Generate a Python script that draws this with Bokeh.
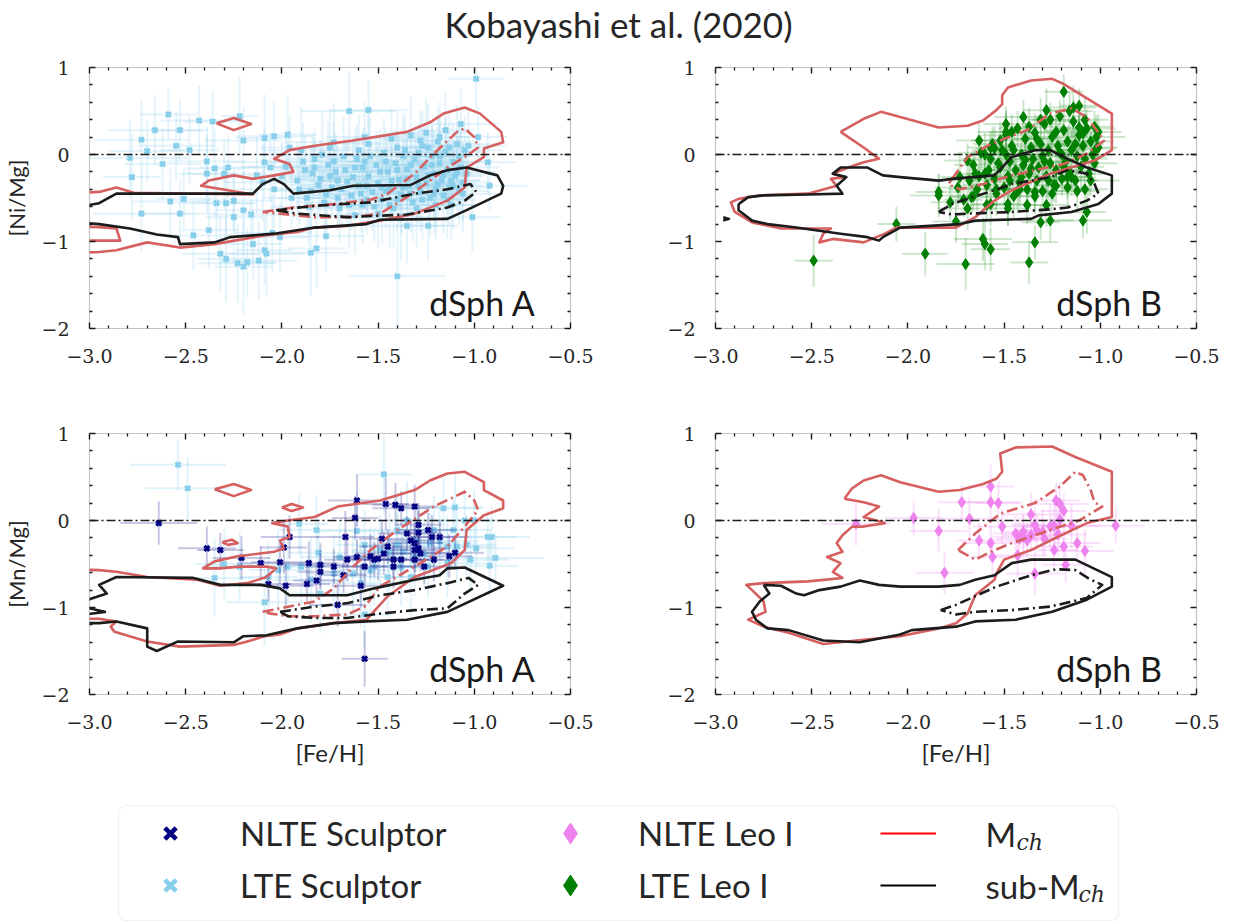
import numpy as np
from bokeh.plotting import figure
from bokeh.models import (Range1d, FixedTicker, LinearAxis, Span, Label, Legend, LegendItem,
                          BoxAnnotation, ColumnDataSource)
from bokeh.layouts import column, row
from bokeh.embed import file_html
from bokeh.resources import INLINE

# ---------------- ticks ----------------
x_ticks = [-3.0, -2.5, -2.0, -1.5, -1.0, -0.5]
x_tick_labels = ["−3.0", "−2.5", "−2.0", "−1.5", "−1.0", "−0.5"]
y_ticks = [-2, -1, 0, 1]
y_tick_labels = ["−2", "−1", "0", "1"]
x_minor = [-2.9, -2.8, -2.7, -2.6, -2.4, -2.3, -2.2, -2.1, -1.9, -1.8, -1.7, -1.6,
           -1.4, -1.3, -1.2, -1.1, -0.9, -0.8, -0.7, -0.6]
y_minor = [-1.8, -1.6, -1.4, -1.2, -0.8, -0.6, -0.4, -0.2, 0.2, 0.4, 0.6, 0.8]

title_text = "Kobayashi et al. (2020)"
panel_names = ["dSph A", "dSph B", "dSph A", "dSph B"]
y_labels = ["[Ni/Mg]", "[Mn/Mg]"]
x_label = "[Fe/H]"

# ---------------- observations: (feh, ratio, feh_err, ratio_err) ----------------
ni_sculptor_lte = [
    (-0.99, 0.87, 0.15, 0.35), (-2.59, 0.46, 0.15, 0.30), (-2.43, 0.39, 0.20, 0.40), (-2.36, 0.38, 0.15, 0.35),
    (-2.22, 0.44, 0.10, 0.45), (-2.66, 0.28, 0.25, 0.40), (-2.53, 0.28, 0.15, 0.35), (-2.73, 0.17, 0.25, 0.45),
    (-2.20, 0.16, 0.20, 0.40), (-2.09, 0.19, 0.15, 0.50), (-2.04, 0.21, 0.20, 0.40), (-1.97, 0.23, 0.15, 0.45),
    (-1.65, 0.50, 0.25, 0.45), (-1.55, 0.51, 0.20, 0.35), (-2.55, 0.10, 0.20, 0.40), (-2.70, 0.04, 0.20, 0.35),
    (-2.48, 0.05, 0.15, 0.40), (-2.79, -0.04, 0.30, 0.45), (-2.62, -0.11, 0.20, 0.40), (-2.78, -0.26, 0.15, 0.50),
    (-2.58, -0.54, 0.20, 0.40), (-2.73, -0.68, 0.25, 0.45), (-2.53, -0.68, 0.20, 0.40), (-2.51, -0.51, 0.15, 0.35),
    (-2.39, -0.08, 0.20, 0.40), (-2.35, -0.16, 0.15, 0.45), (-2.30, -0.22, 0.20, 0.40), (-2.28, -0.15, 0.15, 0.35),
    (-2.39, -0.22, 0.15, 0.45), (-2.34, -0.56, 0.20, 0.45), (-2.29, -0.56, 0.15, 0.40), (-2.25, -0.53, 0.20, 0.35),
    (-2.20, -0.64, 0.15, 0.45), (-2.16, -0.69, 0.20, 0.40), (-2.25, -0.72, 0.15, 0.50), (-2.46, -0.93, 0.20, 0.40),
    (-2.38, -0.87, 0.15, 0.45), (-2.32, -1.14, 0.20, 0.45), (-2.29, -1.20, 0.15, 0.50), (-2.23, -1.25, 0.20, 0.45),
    (-2.20, -1.29, 0.15, 0.55), (-2.18, -1.24, 0.15, 0.40), (-2.12, -1.22, 0.20, 0.45), (-2.09, -1.10, 0.15, 0.40),
    (-2.08, -1.14, 0.20, 0.50), (-2.15, -1.03, 0.15, 0.40), (-2.05, -0.90, 0.20, 0.45), (-2.01, -0.95, 0.15, 0.40),
    (-1.85, -1.13, 0.20, 0.50), (-1.82, -1.08, 0.15, 0.45), (-1.77, -0.94, 0.20, 0.40), (-1.40, -1.40, 0.25, 0.60),
    (-0.92, -0.36, 0.20, 0.30), (-0.93, -0.09, 0.15, 0.35), (-1.01, -0.72, 0.15, 0.40), (-1.35, -0.82, 0.20, 0.45),
    (-1.24, -0.82, 0.15, 0.40), (-1.07, 0.35, 0.20, 0.40), (-0.98, 0.20, 0.15, 0.35), (-2.09, -0.09, 0.20, 0.40),
    (-2.13, -0.24, 0.15, 0.45), (-1.98, -0.14, 0.20, 0.40), (-1.96, 0.08, 0.15, 0.35), (-1.73, 0.14, 0.25, 0.45),
    (-1.57, 0.20, 0.20, 0.40), (-1.40, 0.08, 0.15, 0.40), (-1.28, 0.16, 0.20, 0.35), (-1.18, 0.20, 0.15, 0.40),
    (-1.92, -0.30, 0.20, 0.45), (-1.88, -0.18, 0.15, 0.40), (-1.85, -0.42, 0.20, 0.50), (-1.83, -0.05, 0.15, 0.35),
    (-1.80, -0.28, 0.25, 0.45), (-1.78, -0.55, 0.15, 0.40), (-1.76, -0.12, 0.20, 0.50), (-1.74, -0.38, 0.15, 0.35),
    (-1.72, -0.20, 0.20, 0.45), (-1.70, -0.62, 0.15, 0.40), (-1.68, -0.02, 0.20, 0.45), (-1.66, -0.31, 0.15, 0.50),
    (-1.64, -0.47, 0.20, 0.40), (-1.62, -0.15, 0.25, 0.45), (-1.60, -0.36, 0.15, 0.35), (-1.58, -0.58, 0.20, 0.45),
    (-1.57, -0.08, 0.15, 0.40), (-1.55, -0.25, 0.20, 0.50), (-1.53, -0.43, 0.15, 0.45), (-1.51, -0.12, 0.20, 0.40),
    (-1.50, -0.33, 0.15, 0.45), (-1.48, -0.52, 0.20, 0.50), (-1.47, 0.02, 0.15, 0.40), (-1.45, -0.20, 0.20, 0.45),
    (-1.44, -0.40, 0.15, 0.35), (-1.42, -0.62, 0.20, 0.45), (-1.41, -0.10, 0.15, 0.40), (-1.39, -0.29, 0.20, 0.50),
    (-1.38, -0.46, 0.15, 0.45), (-1.36, 0.05, 0.20, 0.40), (-1.35, -0.17, 0.15, 0.45), (-1.34, -0.36, 0.20, 0.35),
    (-1.32, -0.55, 0.15, 0.45), (-1.31, -0.06, 0.20, 0.40), (-1.30, -0.26, 0.15, 0.50), (-1.28, -0.43, 0.20, 0.45),
    (-1.27, 0.10, 0.15, 0.40), (-1.26, -0.14, 0.20, 0.45), (-1.25, -0.33, 0.15, 0.35), (-1.23, -0.50, 0.20, 0.45),
    (-1.22, -0.02, 0.15, 0.40), (-1.21, -0.22, 0.20, 0.50), (-1.20, -0.40, 0.15, 0.45), (-1.19, 0.15, 0.20, 0.40),
    (-1.18, -0.10, 0.15, 0.45), (-1.17, -0.30, 0.20, 0.35), (-1.16, -0.47, 0.15, 0.45), (-1.15, 0.03, 0.20, 0.40),
    (-1.14, -0.18, 0.15, 0.50), (-1.13, -0.38, 0.20, 0.45), (-1.12, -0.58, 0.15, 0.40), (-1.11, -0.08, 0.20, 0.45),
    (-1.10, -0.25, 0.15, 0.35), (-1.09, 0.12, 0.20, 0.45), (-1.08, -0.42, 0.15, 0.40), (-1.07, -0.15, 0.20, 0.50),
    (-1.06, -0.32, 0.15, 0.45), (-1.05, 0.05, 0.20, 0.40), (-1.62, -0.70, 0.15, 0.45), (-1.50, -0.68, 0.20, 0.40),
    (-1.38, -0.72, 0.15, 0.50), (-1.86, -0.60, 0.20, 0.45), (-2.00, -0.25, 0.15, 0.40), (-2.04, -0.40, 0.20, 0.45),
    (-1.95, -0.50, 0.15, 0.35), (-2.10, -0.32, 0.20, 0.45), (-2.06, -0.15, 0.15, 0.40), (-1.90, 0.05, 0.20, 0.50),
    (-1.75, 0.08, 0.15, 0.45), (-1.60, 0.05, 0.20, 0.40), (-1.55, 0.12, 0.15, 0.45), (-1.43, 0.18, 0.20, 0.35),
    (-1.33, 0.22, 0.15, 0.45), (-1.25, 0.25, 0.20, 0.40), (-1.15, 0.28, 0.15, 0.45),
    (-1.91, -0.40, 0.15, 0.40), (-1.89, -0.08, 0.20, 0.45), (-1.87, -0.50, 0.15, 0.35), (-1.84, -0.22, 0.20, 0.45),
    (-1.81, -0.35, 0.15, 0.40), (-1.79, 0.00, 0.20, 0.50), (-1.77, -0.46, 0.15, 0.45), (-1.75, -0.25, 0.20, 0.40),
    (-1.73, -0.08, 0.15, 0.45), (-1.71, -0.50, 0.20, 0.35), (-1.69, -0.40, 0.15, 0.45), (-1.67, -0.18, 0.20, 0.40),
    (-1.65, -0.58, 0.15, 0.50), (-1.63, -0.26, 0.20, 0.45), (-1.61, -0.05, 0.15, 0.40), (-1.59, -0.45, 0.20, 0.45),
    (-1.56, -0.36, 0.15, 0.35), (-1.54, -0.02, 0.20, 0.45), (-1.52, -0.60, 0.15, 0.40), (-1.49, -0.20, 0.20, 0.50),
    (-1.46, -0.42, 0.15, 0.45), (-1.46, -0.08, 0.20, 0.40), (-1.43, -0.30, 0.15, 0.45), (-1.40, -0.52, 0.20, 0.35),
    (-1.40, -0.18, 0.15, 0.45), (-1.37, -0.38, 0.20, 0.40), (-1.37, -0.02, 0.15, 0.50), (-1.33, -0.45, 0.20, 0.45),
    (-1.33, -0.12, 0.15, 0.40), (-1.29, -0.35, 0.20, 0.45), (-1.29, 0.02, 0.15, 0.35), (-1.27, -0.52, 0.20, 0.45),
    (-1.24, -0.24, 0.15, 0.40), (-1.24, 0.08, 0.20, 0.50), (-1.21, -0.46, 0.15, 0.45), (-1.19, -0.34, 0.20, 0.40),
    (-1.18, -0.02, 0.15, 0.45), (-1.16, -0.24, 0.20, 0.35), (-1.14, -0.52, 0.15, 0.45), (-1.13, 0.08, 0.20, 0.40),
    (-1.11, -0.36, 0.15, 0.50), (-1.09, -0.20, 0.20, 0.45), (-1.08, -0.02, 0.15, 0.40), (-1.06, -0.45, 0.20, 0.45),
    (-1.04, -0.22, 0.15, 0.35), (-1.03, 0.10, 0.20, 0.45), (-1.56, -0.52, 0.15, 0.40), (-1.44, -0.58, 0.20, 0.50),
    (-1.30, -0.62, 0.15, 0.45), (-1.20, -0.58, 0.20, 0.40), (-1.71, -0.30, 0.15, 0.45), (-1.83, -0.15, 0.20, 0.35),
    (-1.58, -0.15, 0.15, 0.45), (-1.48, -0.38, 0.20, 0.40), (-1.35, -0.28, 0.15, 0.50), (-1.22, -0.12, 0.20, 0.45),
    (-1.12, -0.30, 0.15, 0.40),
]

ni_leo_lte = [
    (-2.49, -1.22, 0.10, 0.30), (-2.06, -0.80, 0.10, 0.20), (-1.91, -1.14, 0.12, 0.25), (-1.70, -1.26, 0.15, 0.30),
    (-1.61, -0.97, 0.15, 0.25), (-1.60, -1.03, 0.12, 0.30), (-1.57, -1.09, 0.10, 0.25), (-1.34, -1.01, 0.12, 0.20),
    (-1.37, -1.24, 0.10, 0.25), (-1.84, -0.43, 0.12, 0.20), (-1.84, -0.47, 0.15, 0.25), (-1.78, -0.55, 0.10, 0.20),
    (-1.75, -0.77, 0.12, 0.25), (-1.31, -0.78, 0.10, 0.20), (-1.26, -0.76, 0.12, 0.25), (-1.09, -0.76, 0.15, 0.20),
    (-1.07, -0.66, 0.10, 0.25), (-1.08, -0.40, 0.12, 0.20), (-1.48, -0.57, 0.12, 0.25), (-1.19, 0.72, 0.10, 0.20),
    (-1.14, 0.54, 0.12, 0.25), (-1.11, 0.56, 0.10, 0.20), (-1.28, 0.51, 0.12, 0.25), (-1.40, 0.43, 0.15, 0.20),
    (-1.11, 0.31, 0.10, 0.25), (-1.01, 0.26, 0.12, 0.20), (-1.02, 0.07, 0.10, 0.25), (-1.63, 0.16, 0.12, 0.20),
    (-1.55, 0.07, 0.10, 0.25), (-1.49, 0.35, 0.12, 0.20), (-1.49, 0.26, 0.15, 0.25), (-1.69, -0.07, 0.12, 0.20),
    (-1.65, -0.22, 0.10, 0.25), (-1.67, -0.49, 0.12, 0.20), (-1.73, -0.26, 0.10, 0.25), (-1.54, -0.40, 0.12, 0.20),
    (-1.57, -0.57, 0.10, 0.25), (-1.42, -0.40, 0.12, 0.20), (-1.34, -0.43, 0.10, 0.25), (-1.23, -0.36, 0.12, 0.20),
    (-1.17, -0.26, 0.10, 0.25),
    (-1.68, -0.30, 0.12, 0.22), (-1.66, -0.12, 0.10, 0.18), (-1.64, -0.40, 0.15, 0.25), (-1.62, 0.02, 0.12, 0.20),
    (-1.60, -0.22, 0.10, 0.22), (-1.59, -0.35, 0.12, 0.18), (-1.57, -0.05, 0.15, 0.25), (-1.56, 0.12, 0.10, 0.20),
    (-1.55, -0.28, 0.12, 0.22), (-1.54, -0.45, 0.10, 0.25), (-1.52, -0.15, 0.12, 0.18), (-1.51, 0.05, 0.15, 0.20),
    (-1.50, -0.38, 0.10, 0.22), (-1.49, 0.22, 0.12, 0.25), (-1.48, -0.25, 0.10, 0.18), (-1.47, -0.08, 0.12, 0.20),
    (-1.46, 0.10, 0.15, 0.22), (-1.45, -0.48, 0.10, 0.25), (-1.44, -0.18, 0.12, 0.18), (-1.43, 0.30, 0.10, 0.20),
    (-1.42, -0.32, 0.12, 0.22), (-1.41, 0.00, 0.15, 0.25), (-1.40, -0.12, 0.10, 0.18), (-1.39, 0.18, 0.12, 0.20),
    (-1.38, -0.40, 0.10, 0.22), (-1.37, -0.22, 0.12, 0.25), (-1.36, 0.08, 0.15, 0.18), (-1.35, -0.05, 0.10, 0.20),
    (-1.34, 0.25, 0.12, 0.22), (-1.33, -0.30, 0.10, 0.25), (-1.32, -0.15, 0.12, 0.18), (-1.31, 0.12, 0.15, 0.20),
    (-1.30, -0.02, 0.10, 0.22), (-1.30, -0.42, 0.12, 0.25), (-1.29, 0.35, 0.10, 0.18), (-1.28, -0.25, 0.12, 0.20),
    (-1.27, 0.05, 0.15, 0.22), (-1.26, -0.10, 0.10, 0.25), (-1.25, 0.20, 0.12, 0.18), (-1.24, -0.35, 0.10, 0.20),
    (-1.23, -0.18, 0.12, 0.22), (-1.22, 0.10, 0.15, 0.25), (-1.21, 0.02, 0.10, 0.18), (-1.20, -0.28, 0.12, 0.20),
    (-1.19, 0.28, 0.10, 0.22), (-1.18, -0.08, 0.12, 0.25), (-1.17, 0.15, 0.15, 0.18), (-1.16, -0.20, 0.10, 0.20),
    (-1.15, 0.05, 0.12, 0.22), (-1.14, 0.38, 0.10, 0.25), (-1.13, -0.30, 0.12, 0.18), (-1.12, -0.02, 0.15, 0.20),
    (-1.11, 0.22, 0.10, 0.22), (-1.10, -0.14, 0.12, 0.25), (-1.09, 0.10, 0.10, 0.18), (-1.08, -0.05, 0.12, 0.20),
    (-1.07, 0.30, 0.15, 0.22), (-1.06, -0.22, 0.10, 0.25), (-1.05, 0.15, 0.12, 0.18), (-1.04, 0.00, 0.10, 0.20),
    (-1.03, -0.10, 0.12, 0.22), (-1.02, 0.20, 0.15, 0.25), (-1.01, 0.08, 0.10, 0.18), (-1.36, -0.16, 0.12, 0.20),
    (-1.27, -0.30, 0.10, 0.22), (-1.33, 0.18, 0.12, 0.25), (-1.45, 0.05, 0.15, 0.18), (-1.53, -0.10, 0.10, 0.20),
    (-1.41, -0.26, 0.12, 0.22), (-1.23, 0.26, 0.10, 0.25), (-1.19, -0.14, 0.12, 0.18), (-1.13, 0.12, 0.15, 0.20),
    (-1.09, 0.24, 0.10, 0.22), (-1.47, -0.30, 0.12, 0.25), (-1.58, -0.18, 0.10, 0.18), (-1.63, -0.25, 0.12, 0.20),
    (-1.37, 0.32, 0.15, 0.22), (-1.31, 0.40, 0.10, 0.25), (-1.21, 0.44, 0.12, 0.18), (-1.26, 0.40, 0.10, 0.20),
    (-1.16, 0.50, 0.12, 0.22), (-1.43, -0.42, 0.15, 0.25), (-1.34, -0.48, 0.10, 0.18), (-1.25, -0.45, 0.12, 0.20),
    (-1.17, -0.38, 0.10, 0.22), (-1.12, -0.42, 0.12, 0.25), (-1.05, -0.30, 0.15, 0.18), (-1.29, -0.08, 0.10, 0.20),
    (-1.39, -0.06, 0.12, 0.22), (-1.49, 0.00, 0.10, 0.25), (-1.57, 0.08, 0.12, 0.18), (-1.20, 0.00, 0.15, 0.20),
    (-1.15, -0.26, 0.10, 0.22), (-1.08, 0.40, 0.12, 0.25), (-1.03, 0.32, 0.10, 0.18), (-1.46, 0.26, 0.12, 0.20),
    (-1.52, 0.16, 0.15, 0.22), (-1.60, 0.00, 0.10, 0.25), (-1.66, -0.48, 0.12, 0.18), (-1.71, -0.52, 0.10, 0.20),
    (-1.74, -0.38, 0.12, 0.22), (-1.69, -0.62, 0.15, 0.25), (-1.59, -0.58, 0.10, 0.18), (-1.48, -0.62, 0.12, 0.20),
    (-1.38, -0.58, 0.10, 0.22), (-1.28, -0.58, 0.12, 0.25),
]

mn_sculptor_nlte = [
    (-2.64, -0.03, 0.20, 0.25), (-2.39, -0.32, 0.15, 0.25), (-2.32, -0.34, 0.12, 0.20), (-2.21, -0.43, 0.15, 0.25),
    (-2.11, -0.49, 0.12, 0.20), (-2.01, -0.48, 0.15, 0.25), (-1.99, -0.31, 0.12, 0.30), (-1.96, -0.19, 0.15, 0.25),
    (-2.07, -0.73, 0.12, 0.20), (-1.98, -0.75, 0.15, 0.25), (-1.87, -0.73, 0.12, 0.20), (-1.86, -0.49, 0.15, 0.25),
    (-1.82, -0.69, 0.12, 0.20), (-1.80, -0.51, 0.15, 0.25), (-1.80, -0.59, 0.12, 0.20), (-1.71, -0.97, 0.15, 0.25),
    (-1.68, -0.63, 0.12, 0.20), (-1.67, -0.19, 0.15, 0.30), (-1.62, 0.03, 0.12, 0.25), (-1.61, 0.23, 0.15, 0.30),
    (-1.61, -0.42, 0.12, 0.20), (-1.59, -0.75, 0.15, 0.25), (-1.57, -1.59, 0.12, 0.32), (-1.52, -0.45, 0.12, 0.20),
    (-1.50, -0.44, 0.15, 0.25), (-1.48, -0.21, 0.12, 0.20), (-1.47, -0.38, 0.15, 0.25), (-1.46, 0.19, 0.12, 0.30),
    (-1.42, -0.45, 0.15, 0.20), (-1.41, 0.18, 0.12, 0.25), (-1.38, 0.14, 0.15, 0.20), (-1.31, 0.16, 0.12, 0.25),
    (-1.31, -0.26, 0.15, 0.20), (-1.29, -0.05, 0.12, 0.25), (-1.29, -0.32, 0.15, 0.20), (-1.29, -0.14, 0.12, 0.25),
    (-1.26, -0.53, 0.15, 0.20), (-1.22, -0.19, 0.12, 0.25), (-1.18, -0.19, 0.15, 0.20), (-1.13, -0.41, 0.12, 0.25),
    (-1.10, -0.37, 0.15, 0.20), (-1.54, -0.41, 0.12, 0.25), (-1.38, -0.45, 0.15, 0.20), (-1.33, -0.23, 0.12, 0.25),
    (-1.24, -0.11, 0.15, 0.20), (-1.42, -0.53, 0.12, 0.25), (-1.73, -0.53, 0.15, 0.20), (-1.31, -0.34, 0.12, 0.25),
    (-1.35, -0.15, 0.15, 0.20), (-1.21, -0.45, 0.12, 0.25), (-1.45, -0.30, 0.15, 0.20), (-1.57, -0.53, 0.12, 0.25),
    (-1.28, -0.38, 0.15, 0.20), (-1.66, -0.45, 0.12, 0.25), (-1.31, -0.45, 0.15, 0.20),
]

mn_sculptor_lte = [
    (-2.54, 0.64, 0.25, 0.30), (-2.49, 0.37, 0.22, 0.35), (-1.47, 0.53, 0.15, 0.45), (-1.91, -0.04, 0.15, 0.35),
    (-1.82, -0.11, 0.20, 0.40), (-1.81, -0.37, 0.15, 0.35), (-2.35, -0.66, 0.20, 0.45), (-2.30, -0.50, 0.15, 0.40),
    (-2.09, -0.94, 0.20, 0.50), (-2.07, -0.65, 0.15, 0.40), (-1.61, -0.12, 0.20, 0.45), (-1.57, -1.08, 0.15, 0.40),
    (-1.16, 0.14, 0.20, 0.35), (-1.10, 0.15, 0.15, 0.40), (-1.00, 0.00, 0.20, 0.35), (-0.93, -0.19, 0.15, 0.30),
    (-0.91, -0.19, 0.20, 0.35), (-0.89, -0.43, 0.25, 0.30), (-0.92, -0.52, 0.15, 0.35), (-0.99, -0.32, 0.20, 0.30),
    (-1.04, -0.28, 0.15, 0.35), (-1.09, -0.30, 0.20, 0.40), (-1.14, -0.30, 0.15, 0.35), (-1.18, -0.24, 0.20, 0.40),
    (-1.23, -0.26, 0.15, 0.35), (-1.26, -0.38, 0.20, 0.40), (-1.31, -0.42, 0.15, 0.45), (-1.37, -0.36, 0.20, 0.40),
    (-1.40, -0.28, 0.15, 0.35), (-1.44, -0.36, 0.20, 0.45), (-1.49, -0.34, 0.15, 0.40), (-1.52, -0.53, 0.20, 0.45),
    (-1.57, -0.28, 0.15, 0.40), (-1.54, -0.57, 0.20, 0.50), (-1.63, -0.61, 0.15, 0.45), (-1.70, -0.42, 0.20, 0.40),
    (-1.73, -0.61, 0.15, 0.45), (-1.85, -0.68, 0.20, 0.50), (-1.90, -0.53, 0.15, 0.45), (-1.97, -0.53, 0.20, 0.40),
    (-2.02, -0.57, 0.15, 0.45), (-2.22, -0.53, 0.20, 0.40), (-1.38, -0.53, 0.15, 0.45), (-1.21, -0.11, 0.20, 0.40),
    (-1.30, -0.23, 0.15, 0.35), (-1.14, -0.49, 0.20, 0.40), (-1.35, 0.00, 0.15, 0.45), (-1.40, -0.11, 0.20, 0.40),
    (-1.24, -0.53, 0.15, 0.35), (-1.45, -0.65, 0.20, 0.45), (-1.05, 0.00, 0.15, 0.35), (-1.11, -0.11, 0.20, 0.40),
    (-1.33, -0.65, 0.15, 0.45), (-1.59, -0.72, 0.20, 0.50), (-1.80, -0.84, 0.15, 0.45), (-1.02, -0.45, 0.20, 0.35),
]

mn_leo_nlte = [
    (-2.27, -0.04, 0.18, 0.25), (-1.97, 0.03, 0.15, 0.20), (-1.84, -0.12, 0.15, 0.25), (-1.72, 0.21, 0.12, 0.20),
    (-1.68, 0.02, 0.15, 0.25), (-1.63, -0.23, 0.12, 0.20), (-1.57, 0.39, 0.12, 0.25), (-1.57, 0.21, 0.15, 0.20),
    (-1.53, 0.20, 0.12, 0.25), (-1.57, -0.26, 0.15, 0.20), (-1.56, -0.42, 0.12, 0.25), (-1.51, -0.07, 0.15, 0.20),
    (-1.81, -0.60, 0.15, 0.25), (-1.44, -0.15, 0.12, 0.20), (-1.43, -0.40, 0.15, 0.25), (-1.40, -0.13, 0.12, 0.20),
    (-1.40, -0.19, 0.15, 0.25), (-1.38, -0.23, 0.12, 0.20), (-1.36, 0.07, 0.15, 0.25), (-1.34, -0.05, 0.12, 0.20),
    (-1.34, -0.61, 0.15, 0.25), (-1.33, -0.11, 0.12, 0.20), (-1.30, -0.13, 0.15, 0.25), (-1.29, -0.21, 0.12, 0.20),
    (-1.26, -0.07, 0.15, 0.25), (-1.24, -0.34, 0.12, 0.20), (-1.24, -0.06, 0.15, 0.25), (-1.23, 0.23, 0.12, 0.20),
    (-1.21, 0.19, 0.15, 0.25), (-1.21, 0.01, 0.12, 0.20), (-1.22, -0.16, 0.15, 0.25), (-1.19, 0.11, 0.12, 0.20),
    (-1.19, -0.30, 0.15, 0.25), (-1.18, -0.51, 0.12, 0.20), (-1.15, -0.06, 0.15, 0.25), (-1.12, -0.26, 0.12, 0.20),
    (-1.08, -0.35, 0.15, 0.25), (-0.92, -0.06, 0.15, 0.20), (-1.42, -0.21, 0.12, 0.25), (-1.36, -0.17, 0.15, 0.20),
]

# ---------------- model contours: (feh, ratio) ----------------
ni_sculptor_mch_outer = [(-3.05, -0.44), (-2.95, -0.43), (-2.86, -0.38), (-2.77, -0.44), (-2.15, -0.46), (-2.42, -0.36),
    (-2.38, -0.30), (-2.25, -0.24), (-2.15, -0.28), (-2.04, -0.24), (-1.94, -0.20), (-1.96, -0.11), (-2.04, -0.05),
    (-1.96, 0.05), (-1.83, 0.10), (-1.63, 0.16), (-1.35, 0.26), (-1.23, 0.37), (-1.16, 0.47), (-1.05, 0.54),
    (-0.97, 0.47), (-0.86, 0.26), (-0.85, 0.14), (-0.95, 0.07), (-0.95, -0.03), (-1.04, -0.15), (-1.05, -0.38),
    (-1.14, -0.53), (-1.31, -0.68), (-1.49, -0.76), (-1.66, -0.82), (-1.83, -0.84), (-1.92, -0.89), (-2.09, -0.93),
    (-2.35, -1.03), (-2.53, -1.07), (-2.70, -1.01), (-2.86, -1.10), (-2.95, -1.12), (-3.05, -1.13)]
ni_sculptor_mch_edge = [(-3.05, -0.83), (-2.95, -0.835), (-2.86, -0.85), (-2.84, -0.99), (-2.95, -0.99), (-3.05, -0.99)]
ni_sculptor_mch_island = [(-2.34, 0.36), (-2.25, 0.42), (-2.16, 0.35), (-2.25, 0.28), (-2.34, 0.36)]
ni_sculptor_mch_inner = [(-2.10, -0.66), (-1.94, -0.61), (-1.73, -0.57), (-1.54, -0.52), (-1.45, -0.45), (-1.31, -0.22),
    (-1.21, 0.01), (-1.09, 0.26), (-1.05, 0.30), (-1.00, 0.20), (-0.98, 0.08), (-1.05, -0.03), (-1.14, -0.15),
    (-1.23, -0.30), (-1.35, -0.49), (-1.49, -0.68), (-1.63, -0.72), (-1.83, -0.72), (-2.01, -0.68), (-2.10, -0.66)]
ni_sculptor_sub_outer = [(-3.05, -0.60), (-2.95, -0.56), (-2.86, -0.45), (-2.15, -0.45), (-2.10, -0.34), (-2.04, -0.28),
    (-1.99, -0.34), (-1.94, -0.45), (-1.75, -0.41), (-1.63, -0.36), (-1.33, -0.35), (-1.23, -0.24), (-1.14, -0.18),
    (-1.04, -0.15), (-0.88, -0.24), (-0.85, -0.36), (-0.86, -0.45), (-1.04, -0.64), (-1.14, -0.74), (-1.49, -0.75),
    (-1.56, -0.80), (-1.83, -0.84), (-2.04, -0.91), (-2.27, -0.95), (-2.35, -1.01), (-2.53, -1.03), (-2.54, -0.95),
    (-2.65, -0.92), (-2.79, -0.85), (-2.95, -0.80), (-3.05, -0.78)]
ni_sculptor_sub_inner = [(-2.03, -0.64), (-1.83, -0.59), (-1.54, -0.55), (-1.31, -0.45), (-1.14, -0.40), (-1.02, -0.34),
    (-0.99, -0.43), (-1.05, -0.53), (-1.14, -0.61), (-1.35, -0.69), (-1.66, -0.72), (-1.92, -0.68), (-2.03, -0.64)]

ni_leo_mch_outer = [(-2.35, 0.26), (-2.23, 0.08), (-2.15, -0.05), (-2.23, -0.09), (-2.31, -0.15), (-2.39, -0.22),
    (-2.33, -0.26), (-2.40, -0.28), (-2.37, -0.36), (-2.52, -0.45), (-2.77, -0.47), (-2.88, -0.51), (-2.92, -0.55),
    (-2.90, -0.66), (-2.81, -0.78), (-2.66, -0.85), (-2.40, -0.85), (-2.44, -0.91), (-2.46, -1.01), (-2.39, -0.97),
    (-2.31, -0.99), (-2.23, -1.01), (-2.12, -0.91), (-2.06, -0.84), (-1.75, -0.84), (-1.65, -0.72), (-1.55, -0.53),
    (-1.46, -0.41), (-1.26, -0.22), (-1.03, -0.07), (-0.94, 0.05), (-0.94, 0.47), (-1.05, 0.62), (-1.19, 0.81),
    (-1.25, 0.87), (-1.36, 0.85), (-1.48, 0.77), (-1.51, 0.68), (-1.51, 0.58), (-1.54, 0.51), (-1.61, 0.39),
    (-1.69, 0.33), (-1.84, 0.31), (-2.04, 0.43), (-2.14, 0.49), (-2.23, 0.41), (-2.35, 0.26)]
ni_leo_mch_inner = [(-1.77, -0.28), (-1.69, -0.03), (-1.57, 0.12), (-1.38, 0.28), (-1.26, 0.47), (-1.15, 0.53),
    (-1.07, 0.43), (-1.03, 0.31), (-0.98, 0.16), (-1.07, 0.01), (-1.19, -0.11), (-1.34, -0.18), (-1.46, -0.24),
    (-1.61, -0.34), (-1.73, -0.40), (-1.79, -0.34), (-1.77, -0.28)]
ni_leo_sub_outer = [(-2.88, -0.57), (-2.83, -0.49), (-2.75, -0.47), (-2.52, -0.46), (-2.34, -0.45), (-2.37, -0.36),
    (-2.32, -0.26), (-2.39, -0.22), (-2.35, -0.15), (-2.21, -0.15), (-2.13, -0.24), (-2.04, -0.26), (-1.84, -0.30),
    (-1.77, -0.28), (-1.55, -0.24), (-1.46, -0.03), (-1.34, 0.05), (-1.26, 0.05), (-1.19, -0.03), (-1.07, -0.15),
    (-0.94, -0.24), (-0.94, -0.45), (-1.01, -0.57), (-1.15, -0.66), (-1.32, -0.70), (-1.36, -0.74), (-1.65, -0.76),
    (-1.73, -0.80), (-2.04, -0.84), (-2.13, -0.95), (-2.15, -0.99), (-2.21, -0.95), (-2.35, -0.91), (-2.58, -0.84),
    (-2.73, -0.80), (-2.81, -0.76), (-2.88, -0.64), (-2.88, -0.57)]
ni_leo_sub_tick = [(-2.96, -0.72), (-2.93, -0.74), (-2.96, -0.76)]
ni_leo_sub_inner = [(-1.84, -0.66), (-1.77, -0.57), (-1.69, -0.51), (-1.55, -0.41), (-1.46, -0.34), (-1.26, -0.26),
    (-1.17, -0.18), (-1.07, -0.22), (-1.03, -0.34), (-1.01, -0.45), (-1.07, -0.53), (-1.17, -0.61), (-1.26, -0.63),
    (-1.46, -0.66), (-1.69, -0.68), (-1.77, -0.69), (-1.84, -0.66)]

mn_sculptor_mch_outer = [(-3.05, -0.565), (-2.95, -0.57), (-2.86, -0.59), (-2.70, -0.65), (-2.44, -0.68), (-2.32, -0.75),
    (-2.18, -0.72), (-2.08, -0.65), (-2.03, -0.55), (-2.08, -0.53), (-2.22, -0.53), (-2.32, -0.55), (-2.41, -0.55),
    (-2.35, -0.47), (-2.23, -0.41), (-2.04, -0.36), (-1.99, -0.32), (-2.01, -0.23), (-1.96, -0.19), (-1.97, -0.07),
    (-2.05, -0.03), (-1.97, 0.00), (-1.83, 0.04), (-1.71, 0.16), (-1.49, 0.23), (-1.31, 0.35), (-1.23, 0.46),
    (-1.14, 0.54), (-1.05, 0.56), (-0.95, 0.44), (-0.95, 0.35), (-0.85, 0.23), (-0.85, 0.14), (-0.95, 0.06),
    (-1.04, -0.11), (-1.05, -0.34), (-1.12, -0.49), (-1.31, -0.65), (-1.45, -0.87), (-1.56, -1.14), (-1.73, -1.18),
    (-1.92, -1.24), (-2.01, -1.31), (-2.09, -1.33), (-2.18, -1.39), (-2.25, -1.43), (-2.53, -1.45), (-2.70, -1.39),
    (-2.87, -1.28), (-2.89, -1.22), (-2.86, -1.16), (-2.95, -1.13), (-3.05, -1.13)]
mn_sculptor_mch_island1 = [(-2.35, 0.36), (-2.25, 0.42), (-2.16, 0.35), (-2.25, 0.28), (-2.35, 0.36)]
mn_sculptor_mch_island2 = [(-2.00, 0.15), (-1.95, 0.19), (-1.89, 0.15), (-1.95, 0.11), (-2.00, 0.15)]
mn_sculptor_mch_island3 = [(-2.31, -0.25), (-2.26, -0.22), (-2.23, -0.26), (-2.28, -0.28), (-2.31, -0.25)]
mn_sculptor_mch_inner = [(-2.10, -1.05), (-2.01, -1.01), (-1.83, -0.93), (-1.73, -0.78), (-1.63, -0.53), (-1.54, -0.34),
    (-1.40, -0.11), (-1.21, 0.16), (-1.05, 0.33), (-1.00, 0.23), (-0.98, 0.12), (-1.05, -0.07), (-1.14, -0.30),
    (-1.31, -0.53), (-1.49, -0.76), (-1.57, -0.99), (-1.66, -1.08), (-1.83, -1.10), (-1.96, -1.10), (-2.06, -1.07),
    (-2.10, -1.05)]
mn_sculptor_sub_outer = [(-3.02, -0.92), (-2.91, -0.84), (-2.95, -0.74), (-2.86, -0.65), (-2.46, -0.66), (-2.32, -0.74),
    (-2.11, -0.74), (-2.01, -0.78), (-1.96, -0.86), (-1.66, -0.86), (-1.52, -0.78), (-1.31, -0.68), (-1.18, -0.63),
    (-1.14, -0.55), (-1.05, -0.54), (-0.85, -0.75), (-1.14, -1.05), (-1.35, -1.14), (-1.56, -1.16), (-1.73, -1.18),
    (-1.92, -1.24), (-2.08, -1.32), (-2.20, -1.33), (-2.25, -1.40), (-2.54, -1.39), (-2.65, -1.50), (-2.70, -1.45),
    (-2.70, -1.24), (-2.86, -1.16), (-2.95, -1.18), (-3.05, -1.18)]
mn_sculptor_sub_notch = [(-3.02, -1.00), (-2.92, -1.05), (-3.02, -1.08)]
mn_sculptor_sub_inner = [(-2.01, -1.05), (-1.83, -0.99), (-1.66, -0.95), (-1.49, -0.86), (-1.31, -0.80), (-1.14, -0.72),
    (-1.03, -0.66), (-0.98, -0.74), (-1.05, -0.84), (-1.14, -1.01), (-1.31, -1.03), (-1.49, -1.07), (-1.66, -1.12),
    (-1.83, -1.12), (-1.97, -1.10), (-2.01, -1.05)]

mn_leo_mch_outer = [(-2.33, 0.25), (-2.29, 0.37), (-2.23, 0.46), (-2.14, 0.52), (-2.04, 0.44), (-1.84, 0.33),
    (-1.73, 0.35), (-1.61, 0.42), (-1.54, 0.48), (-1.51, 0.56), (-1.52, 0.77), (-1.44, 0.84), (-1.25, 0.85),
    (-1.13, 0.73), (-0.94, 0.56), (-0.94, 0.04), (-1.07, -0.03), (-1.26, -0.23), (-1.36, -0.34), (-1.50, -0.45),
    (-1.54, -0.61), (-1.55, -0.68), (-1.65, -0.86), (-1.69, -1.07), (-1.75, -1.18), (-1.84, -1.24), (-2.04, -1.33),
    (-2.23, -1.37), (-2.44, -1.42), (-2.62, -1.29), (-2.75, -1.22), (-2.83, -1.14), (-2.74, -1.05), (-2.75, -0.93),
    (-2.81, -0.80), (-2.84, -0.74), (-2.75, -0.72), (-2.52, -0.70), (-2.34, -0.66), (-2.39, -0.59), (-2.35, -0.49),
    (-2.42, -0.42), (-2.34, -0.36), (-2.37, -0.26), (-2.34, -0.17), (-2.29, -0.07), (-2.23, -0.07), (-2.12, -0.03),
    (-2.23, 0.04), (-2.15, 0.16), (-2.23, 0.21), (-2.33, 0.25)]
mn_leo_mch_inner = [(-1.74, -0.34), (-1.65, -0.15), (-1.52, 0.08), (-1.34, 0.20), (-1.21, 0.39), (-1.13, 0.56),
    (-1.09, 0.52), (-1.05, 0.35), (-1.03, 0.21), (-0.99, 0.16), (-1.11, 0.00), (-1.26, -0.11), (-1.46, -0.26),
    (-1.57, -0.36), (-1.65, -0.45), (-1.74, -0.34)]
mn_leo_sub_outer = [(-2.75, -0.74), (-2.72, -0.84), (-2.77, -0.93), (-2.81, -1.05), (-2.79, -1.14), (-2.73, -1.24),
    (-2.62, -1.26), (-2.44, -1.38), (-2.25, -1.40), (-2.04, -1.31), (-1.98, -1.26), (-1.75, -1.22), (-1.65, -1.16),
    (-1.44, -1.14), (-1.25, -1.05), (-1.07, -0.91), (-0.94, -0.76), (-0.94, -0.65), (-1.13, -0.45), (-1.26, -0.45),
    (-1.36, -0.45), (-1.46, -0.49), (-1.55, -0.63), (-1.65, -0.68), (-1.73, -0.74), (-1.84, -0.76), (-2.04, -0.76),
    (-2.15, -0.74), (-2.25, -0.69), (-2.35, -0.76), (-2.46, -0.80), (-2.54, -0.86), (-2.58, -0.84), (-2.66, -0.75),
    (-2.75, -0.74)]
mn_leo_sub_inner = [(-1.83, -1.03), (-1.75, -0.97), (-1.65, -0.87), (-1.54, -0.76), (-1.36, -0.63), (-1.23, -0.56),
    (-1.13, -0.57), (-1.05, -0.68), (-0.99, -0.74), (-1.07, -0.89), (-1.26, -0.99), (-1.46, -1.03), (-1.65, -1.05),
    (-1.75, -1.08), (-1.83, -1.03)]

# ---------------- styling ----------------
C_LTE_SCL = "#87ceeb"
C_NLTE_SCL = "#000080"
C_LTE_LEO = "#008000"
C_NLTE_LEO = "#ee82ee"
C_MCH = "#d65f5f"
C_SUB = "#1c1c1c"
TEXT = "#262626"
SANS = "Lato"
SERIF = "DejaVu Serif"
FRAME_W, FRAME_H = 481, 261


def style_axis(ax, labels=True):
    ax.axis_line_color = None
    ax.major_tick_in = 6
    ax.major_tick_out = 0
    ax.minor_tick_in = 3
    ax.minor_tick_out = 0
    ax.major_tick_line_color = "#1a1a1a"
    ax.major_tick_line_width = 1.4
    ax.minor_tick_line_color = "#1a1a1a"
    ax.minor_tick_line_width = 1.3
    if labels:
        ax.major_label_text_font = SERIF
        ax.major_label_text_font_size = "19px"
        ax.major_label_text_color = TEXT
    else:
        ax.major_label_text_font_size = "1px"
        ax.major_label_text_color = None
        ax.major_label_text_alpha = 0
        ax.major_label_standoff = 0


def make_panel(lb, rb, tb, bb, ylabel=None, xlabel=None):
    p = figure(width=lb + FRAME_W + rb, height=tb + FRAME_H + bb,
               x_range=Range1d(-3, -0.5), y_range=Range1d(-2, 1),
               x_axis_location=None, y_axis_location=None,
               output_backend="svg", toolbar_location=None,
               min_border_left=lb, min_border_right=rb, min_border_top=tb, min_border_bottom=bb,
               background_fill_color="white", border_fill_color="white",
               outline_line_color="#c4c4c4", outline_line_width=1.2)
    p.grid.visible = False
    xt = FixedTicker(ticks=x_ticks, minor_ticks=x_minor)
    yt = FixedTicker(ticks=y_ticks, minor_ticks=y_minor)
    xo = dict(zip(x_ticks, x_tick_labels))
    yo = dict(zip(y_ticks, y_tick_labels))
    bx = LinearAxis(ticker=xt, major_label_overrides=xo)
    style_axis(bx)
    bx.major_label_standoff = 20
    if xlabel:
        bx.axis_label = xlabel
        bx.axis_label_text_font = SANS
        bx.axis_label_text_font_size = "24px"
        bx.axis_label_text_font_style = "normal"
        bx.axis_label_text_color = TEXT
        bx.axis_label_standoff = 6
    p.add_layout(bx, "below")
    ly = LinearAxis(ticker=yt, major_label_overrides=yo)
    style_axis(ly)
    ly.major_label_standoff = 20
    if ylabel:
        ly.axis_label = ylabel
        ly.axis_label_text_font = SANS
        ly.axis_label_text_font_size = "22px"
        ly.axis_label_text_font_style = "normal"
        ly.axis_label_text_color = TEXT
        ly.axis_label_standoff = 8
    p.add_layout(ly, "left")
    ta = LinearAxis(ticker=xt)
    style_axis(ta, labels=False)
    p.add_layout(ta, "above")
    ra = LinearAxis(ticker=yt)
    style_axis(ra, labels=False)
    p.add_layout(ra, "right")
    return p


def add_obs(p, pts, color, marker, size, lw, err_alpha, line_color=None):
    feh = np.array([q[0] for q in pts])
    val = np.array([q[1] for q in pts])
    fe = np.array([q[2] for q in pts])
    ve = np.array([q[3] for q in pts])
    src = ColumnDataSource(dict(x=feh, y=val, xl=feh - fe, xh=feh + fe, yl=val - ve, yh=val + ve))
    p.segment(x0="xl", y0="y", x1="xh", y1="y", source=src, line_color=color, line_alpha=err_alpha, line_width=2)
    p.segment(x0="x", y0="yl", x1="x", y1="yh", source=src, line_color=color, line_alpha=err_alpha, line_width=2)
    p.scatter(x="x", y="y", source=src, marker=marker, size=size, fill_color=color,
              line_color=line_color or color, line_width=lw)


def add_contour(p, pts, color, dash="solid"):
    p.line([q[0] for q in pts], [q[1] for q in pts], line_color=color, line_width=2.6,
           line_dash=dash, line_join="round")


def finish(p, name):
    p.add_layout(Span(location=0, dimension="width", line_color="#1a1a1a", line_width=1.6,
                      line_dash="9 3 2 3"))
    p.add_layout(Label(x=-0.68, y=-1.70, text=name, text_align="right", text_baseline="alphabetic",
                       text_font=SANS, text_font_size="34px", text_color="#1a1a1a"))


DASHDOT = "11 4 2 4"

# Panel A: Ni, Sculptor
p1 = make_panel(89, 70, 17, 91, ylabel=y_labels[0])
add_obs(p1, ni_sculptor_lte, C_LTE_SCL, "x", 7, 3, 0.22)
for c in [ni_sculptor_mch_outer, ni_sculptor_mch_edge, ni_sculptor_mch_island]:
    add_contour(p1, c, C_MCH)
add_contour(p1, ni_sculptor_mch_inner, C_MCH, DASHDOT)
add_contour(p1, ni_sculptor_sub_outer, C_SUB)
add_contour(p1, ni_sculptor_sub_inner, C_SUB, DASHDOT)
finish(p1, panel_names[0])

# Panel B: Ni, Leo I
p2 = make_panel(75, 41, 17, 91)
add_obs(p2, ni_leo_lte, C_LTE_LEO, "diamond", 11, 1, 0.2)
add_contour(p2, ni_leo_mch_outer, C_MCH)
add_contour(p2, ni_leo_mch_inner, C_MCH, DASHDOT)
add_contour(p2, ni_leo_sub_outer, C_SUB)
add_contour(p2, ni_leo_sub_tick, C_SUB)
add_contour(p2, ni_leo_sub_inner, C_SUB, DASHDOT)
finish(p2, panel_names[1])

# Panel C: Mn, Sculptor
p3 = make_panel(89, 70, 14, 86, ylabel=y_labels[1], xlabel=x_label)
add_obs(p3, mn_sculptor_lte, C_LTE_SCL, "x", 7, 3, 0.25)
add_obs(p3, mn_sculptor_nlte, C_NLTE_SCL, "x", 7, 3, 0.22)
for c in [mn_sculptor_mch_outer, mn_sculptor_mch_island1, mn_sculptor_mch_island2, mn_sculptor_mch_island3]:
    add_contour(p3, c, C_MCH)
add_contour(p3, mn_sculptor_mch_inner, C_MCH, DASHDOT)
add_contour(p3, mn_sculptor_sub_outer, C_SUB)
add_contour(p3, mn_sculptor_sub_notch, C_SUB)
add_contour(p3, mn_sculptor_sub_inner, C_SUB, DASHDOT)
finish(p3, panel_names[2])

# Panel D: Mn, Leo I
p4 = make_panel(75, 41, 14, 86, xlabel=x_label)
add_obs(p4, mn_leo_nlte, C_NLTE_LEO, "diamond", 11, 1, 0.25)
add_contour(p4, mn_leo_mch_outer, C_MCH)
add_contour(p4, mn_leo_mch_inner, C_MCH, DASHDOT)
add_contour(p4, mn_leo_sub_outer, C_SUB)
add_contour(p4, mn_leo_sub_inner, C_SUB, DASHDOT)
finish(p4, panel_names[3])

# ---------------- title ----------------
tfig = figure(width=1237, height=50, x_range=Range1d(0, 1237), y_range=Range1d(0, 50),
              x_axis_location=None, y_axis_location=None, output_backend="svg", toolbar_location=None,
              min_border=0, outline_line_color=None, border_fill_color="white")
tfig.grid.visible = False
tfig.add_layout(Label(x=618, y=27, text=title_text, text_align="center", text_baseline="middle",
                      text_font=SANS, text_font_size="35px", text_color=TEXT))

# ---------------- legend ----------------
lfig = figure(width=1237, height=142, x_range=Range1d(0, 1237), y_range=Range1d(0, 142),
              x_axis_location=None, y_axis_location=None, output_backend="svg", toolbar_location=None,
              min_border=0, outline_line_color=None, border_fill_color="white")
lfig.grid.visible = False
lfig.add_layout(BoxAnnotation(left=118, right=1118, bottom=2, top=117, fill_color="white", fill_alpha=1,
                              line_color="#cccccc", line_width=1.2, border_radius=8, level="underlay"))
nan = [float("nan")]
r_nlte_scl = lfig.scatter(x=nan, y=nan, marker="x", size=16, line_color=C_NLTE_SCL, line_width=4.5)
r_lte_scl = lfig.scatter(x=nan, y=nan, marker="x", size=16, line_color=C_LTE_SCL, line_width=4.5)
r_nlte_leo = lfig.scatter(x=nan, y=nan, marker="diamond", size=20, fill_color=C_NLTE_LEO, line_color=C_NLTE_LEO)
r_lte_leo = lfig.scatter(x=nan, y=nan, marker="diamond", size=20, fill_color=C_LTE_LEO, line_color=C_LTE_LEO)
r_mch = lfig.line(x=nan, y=nan, line_color="#ff0000", line_width=2)
r_sub = lfig.line(x=nan, y=nan, line_color="#000000", line_width=2)


def make_legend(items, loc, gh, sp, standoff):
    return Legend(items=items, location=loc, orientation="vertical", glyph_width=56, glyph_height=gh,
                  spacing=sp, label_standoff=standoff, padding=0, margin=0, border_line_color=None,
                  background_fill_alpha=0, label_text_font=SANS, label_text_font_size="33px",
                  label_text_color=TEXT)


lfig.add_layout(make_legend([LegendItem(label="NLTE Sculptor", renderers=[r_nlte_scl]),
                             LegendItem(label="LTE Sculptor", renderers=[r_lte_scl])], (142, 17), 40, 12, 42))
lfig.add_layout(make_legend([LegendItem(label="NLTE Leo I", renderers=[r_nlte_leo]),
                             LegendItem(label="LTE Leo I", renderers=[r_lte_leo])], (542, 11), 52, 0, 40))
lfig.add_layout(make_legend([LegendItem(label=" ", renderers=[r_mch]),
                             LegendItem(label=" ", renderers=[r_sub])], (880, 17), 40, 12, 42))
for txt, sub_x, mid in [("M", 1016, 89), ("sub-M", 1078, 37)]:
    lfig.add_layout(Label(x=985, y=mid, text=txt, text_baseline="middle", text_font=SANS,
                          text_font_size="33px", text_color=TEXT))
    lfig.add_layout(Label(x=sub_x, y=mid - 9, text="ch", text_baseline="middle", text_font="DejaVu Serif",
                          text_font_style="italic", text_font_size="22px", text_color=TEXT))

layout = column(tfig, row(p1, p2), row(p3, p4), lfig, spacing=0)
open("out.html", "w").write(file_html(layout, INLINE))
